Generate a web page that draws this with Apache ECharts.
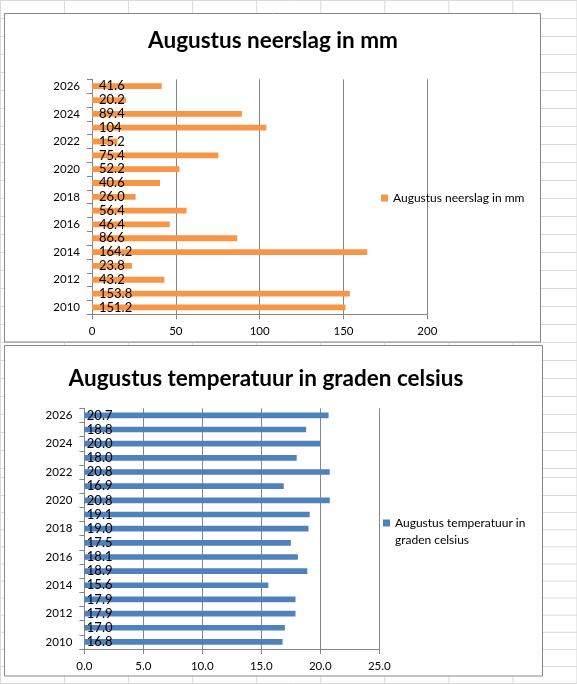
<!DOCTYPE html>
<html>
<head>
<meta charset="utf-8">
<title>Augustus neerslag en temperatuur</title>
<script src="https://cdn.jsdelivr.net/npm/echarts@6/dist/echarts.min.js"></script>
<style>
  html, body { margin: 0; padding: 0; background: #fff; }
  #chart { width: 577px; height: 684px; }
</style>
</head>
<body>
<div id="chart"></div>
<script>
// years, bottom to top
const years = ["2010", "2011", "2012", "2013", "2014", "2015", "2016", "2017", "2018",
  "2019", "2020", "2021", "2022", "2023", "2024", "2025", "2026"]

const rainValues = [151.2, 153.8, 43.2, 23.8, 164.2, 86.6, 46.4, 56.4, 26.0,
  40.6, 52.2, 75.4, 15.2, 104, 89.4, 20.2, 41.6]
// label text as it appears in the sheet cells
const rainLabels = ["151.2", "153.8", "43.2", "23.8", "164.2", "86.6", "46.4", "56.4", "26.0",
  "40.6", "52.2", "75.4", "15.2", "104", "89.4", "20.2", "41.6"]

const tempValues = [16.8, 17.0, 17.9, 17.9, 15.6, 18.9, 18.1, 17.5, 19.0,
  19.1, 20.8, 16.9, 20.8, 18.0, 20.0, 18.8, 20.7]

const rainName = "Augustus neerslag in mm"
const tempName = "Augustus temperatuur in graden celsius"

const FONT = "Lato"
const AXIS_GREY = "#868686"
const CELL_GREY = "#dadada"

// spreadsheet cell lines behind the charts
function sheetLines() {
  const els = []
  for (let k = 0; k < 10; k++) {
    const x = 0.5 + 64.05 * k
    els.push({ type: "line", z: -10, shape: { x1: x, y1: 0, x2: x, y2: 684 }, style: { stroke: CELL_GREY, lineWidth: 1 } })
  }
  const rows = []
  for (let k = 0; k <= 26; k++) rows.push(0.5 + 18 * k)
  rows.push(477.5)
  for (let k = 0; k <= 11; k++) rows.push(495.5 + 17.1 * k)
  rows.forEach(function (y) {
    els.push({ type: "line", z: -10, shape: { x1: 0, y1: y, x2: 577, y2: y }, style: { stroke: CELL_GREY, lineWidth: 1 } })
  })
  return els
}

function frame(x, y, w, h) {
  return {
    type: "rect", z: -5,
    shape: { x: x, y: y, width: w, height: h },
    style: { fill: "#fff", stroke: AXIS_GREY, lineWidth: 1 },
  }
}

function categoryAxis(gridIndex) {
  return {
    type: "category",
    gridIndex: gridIndex,
    data: years,
    axisLine: { show: true, lineStyle: { color: AXIS_GREY, width: 1 } },
    axisTick: { show: true, interval: 0, length: 5, alignWithLabel: false, lineStyle: { color: AXIS_GREY } },
    axisLabel: { interval: 1, margin: 12, color: "#000", fontFamily: FONT, fontSize: 11.5 },
    splitLine: { show: false },
  }
}

function valueAxis(gridIndex, max, step, digits) {
  return {
    type: "value",
    gridIndex: gridIndex,
    min: 0,
    max: max,
    interval: step,
    axisLine: { show: true, lineStyle: { color: AXIS_GREY, width: 1 } },
    axisTick: { show: true, length: 5, lineStyle: { color: AXIS_GREY } },
    axisLabel: {
      margin: 11, color: "#000", fontFamily: FONT, fontSize: 11.5,
      formatter: function (v) { return v.toFixed(digits) },
    },
    splitLine: { show: true, lineStyle: { color: AXIS_GREY, width: 1 } },
  }
}

const chart = echarts.init(document.getElementById("chart"), null, { renderer: "canvas" })

chart.setOption({
  animation: false,
  backgroundColor: "#fff",
  title: [
    {
      text: rainName, left: 268, top: 24, textAlign: "center",
      textStyle: { fontFamily: FONT, fontWeight: "bold", fontSize: 22.5, color: "#000" },
    },
    {
      text: tempName, left: 261, top: 362, textAlign: "center",
      textStyle: { fontFamily: FONT, fontWeight: "bold", fontSize: 22.5, color: "#000" },
    },
  ],
  legend: [
    {
      data: [rainName], left: 381, top: 192, padding: 0,
      icon: "rect", itemWidth: 7, itemHeight: 7,
      textStyle: { fontFamily: FONT, fontSize: 12, color: "#000" },
    },
    {
      // empty first line keeps the marker level with the first text line
      data: [tempName], left: 383, top: 497.5, padding: 0,
      icon: "rect", itemWidth: 7, itemHeight: 7,
      formatter: function () { return " \nAugustus temperatuur in\ngraden celsius" },
      textStyle: { fontFamily: FONT, fontSize: 12, color: "#000", lineHeight: 17 },
    },
  ],
  grid: [
    { left: 92, top: 79.3, width: 335.3, height: 235 },
    { left: 84.3, top: 408.3, width: 295, height: 240.7 },
  ],
  xAxis: [valueAxis(0, 200, 50, 0), valueAxis(1, 25, 5, 1)],
  yAxis: [categoryAxis(0), categoryAxis(1)],
  series: [
    {
      name: rainName,
      type: "bar",
      xAxisIndex: 0,
      yAxisIndex: 0,
      data: rainValues,
      barCategoryGap: "58%",
      itemStyle: { color: "#F79646" },
      label: {
        show: true, position: "insideLeft", distance: 7,
        color: "#000", fontFamily: FONT, fontSize: 13,
        formatter: function (p) { return rainLabels[p.dataIndex] },
      },
    },
    {
      name: tempName,
      type: "bar",
      xAxisIndex: 1,
      yAxisIndex: 1,
      data: tempValues,
      barCategoryGap: "60%",
      itemStyle: { color: "#4F81BD" },
      label: {
        show: true, position: "insideLeft", distance: 2.5,
        color: "#000", fontFamily: FONT, fontSize: 13,
        formatter: function (p) { return p.value.toFixed(1) },
      },
    },
  ],
  graphic: sheetLines().concat([
    frame(4.5, 13.5, 536, 328.5),
    frame(4.5, 345.5, 538, 330.5),
  ]),
})
</script>
</body>
</html>
